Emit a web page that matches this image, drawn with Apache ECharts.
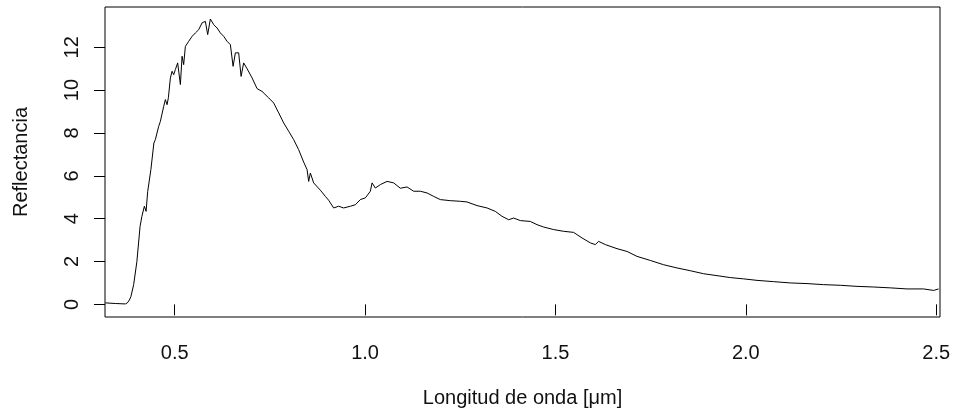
<!DOCTYPE html>
<html>
<head>
<meta charset="utf-8">
<script src="https://cdn.jsdelivr.net/npm/echarts@6/dist/echarts.min.js"></script>
<style>
html,body{margin:0;padding:0;background:#fff;}
#chart{width:954px;height:414px;}
</style>
</head>
<body>
<div id="chart"></div>
<script>
// Wavelength in micrometres
const wavelength = [
0.318,0.344,0.3705,0.3758,0.381,0.385,0.3923,0.4007,0.4091,0.4139,0.4204,0.4249,
0.4291,0.4375,0.4454,0.4493,0.458,0.4624,0.4711,0.4756,0.48,0.4835,
0.4887,0.4932,0.4974,0.5018,0.5079,0.515,0.5194,0.5236,0.5281,0.5368,
0.5457,0.5544,0.563,0.572,0.5806,0.5867,0.5937,0.6024,0.6113,0.62,
0.6287,0.6376,0.6463,0.6534,0.6594,0.6681,0.6744,0.6812,0.6901,0.7033,
0.7164,0.7295,0.7468,0.76,0.7731,0.7862,0.7994,0.8125,0.8256,0.8388,
0.8477,0.8519,0.8564,0.865,0.8826,0.8957,0.9044,0.9175,0.9307,0.9438,
0.9614,0.9745,0.9876,1.0008,1.0139,1.0184,1.027,1.0402,1.0578,1.0751,
1.0927,1.1103,1.1276,1.1452,1.1628,1.1801,1.1977,1.224,1.2503,1.2678,
1.2941,1.3204,1.3422,1.3597,1.3771,1.3902,1.4078,1.4341,1.4517,1.469,
1.4953,1.5215,1.5478,1.5698,1.5916,1.6048,1.6134,1.631,1.6617,1.688,
1.7142,1.7492,1.7841,1.8193,1.8542,1.8892,1.9243,1.9593,1.9942,2.0294,
2.073,2.1168,2.1607,2.2043,2.2481,2.292,2.3356,2.3794,2.4233,2.4669,
2.4932,2.5063
];
// Reflectance values
const reflectance = [
0.07,0.04,0.02,0.07,0.20,0.36,0.92,1.99,3.64,4.11,4.58,4.34,
5.26,6.29,7.53,7.69,8.31,8.54,9.24,9.56,9.32,9.65,
10.57,10.88,10.72,10.96,11.27,10.26,11.58,11.19,12.04,12.28,
12.51,12.67,12.82,13.14,13.21,12.59,13.32,13.06,12.90,12.67,
12.51,12.28,12.12,11.11,11.74,11.74,10.64,11.27,11.00,10.57,
10.07,9.94,9.64,9.40,8.94,8.47,8.08,7.69,7.22,6.64,
6.29,5.74,6.13,5.67,5.33,5.04,4.86,4.50,4.58,4.50,
4.58,4.65,4.89,4.97,5.28,5.67,5.43,5.59,5.74,5.67,
5.42,5.48,5.28,5.28,5.20,5.04,4.89,4.84,4.81,4.78,
4.61,4.50,4.34,4.11,3.95,4.03,3.91,3.87,3.72,3.61,
3.49,3.41,3.36,3.10,2.87,2.79,2.94,2.79,2.60,2.47,
2.24,2.05,1.85,1.70,1.57,1.43,1.34,1.25,1.19,1.12,
1.06,1.00,0.97,0.92,0.89,0.84,0.81,0.77,0.72,0.72,
0.65,0.72
];
const xTicks = [0.5, 1.0, 1.5, 2.0, 2.5];
const yTicks = [0, 2, 4, 6, 8, 10, 12];
const xTitle = 'Longitud de onda [\u03bcm]';
const yTitle = 'Reflectancia';

const points = wavelength.map((w, i) => [w, reflectance[i]]);
const font = '"Liberation Sans", Arial, sans-serif';
const chart = echarts.init(document.getElementById('chart'), null, {renderer: 'canvas'});
chart.setOption({
  animation: false,
  backgroundColor: '#fff',
  grid: {left: 105, right: 14, top: 7, bottom: 97, show: true, borderColor: '#000', borderWidth: 1, backgroundColor: 'transparent'},
  xAxis: {
    type: 'value', min: 0.317, max: 2.510,
    name: xTitle, nameLocation: 'middle', nameGap: 71,
    nameTextStyle: {fontFamily: font, fontSize: 20, color: '#111'},
    axisLine: {show: false},
    splitLine: {show: false},
    axisTick: {show: true, length: 11, lineStyle: {color: '#000', width: 1}, customValues: xTicks},
    axisLabel: {margin: 26, fontFamily: font, fontSize: 20, color: '#111', customValues: xTicks,
      formatter: v => v.toFixed(1)}
  },
  yAxis: {
    type: 'value', min: -0.59, max: 13.88,
    name: yTitle, nameLocation: 'middle', nameGap: 74, nameRotate: 90,
    nameTextStyle: {fontFamily: font, fontSize: 20, color: '#111'},
    axisLine: {show: false},
    splitLine: {show: false},
    axisTick: {show: true, length: 11, lineStyle: {color: '#000', width: 1}, customValues: yTicks},
    axisLabel: {margin: 23, rotate: 90, fontFamily: font, fontSize: 20, color: '#111', customValues: yTicks}
  },
  series: [{
    type: 'line', data: points, showSymbol: false, symbol: 'none',
    lineStyle: {color: '#000', width: 1}, silent: true
  }]
});
</script>
</body>
</html>
